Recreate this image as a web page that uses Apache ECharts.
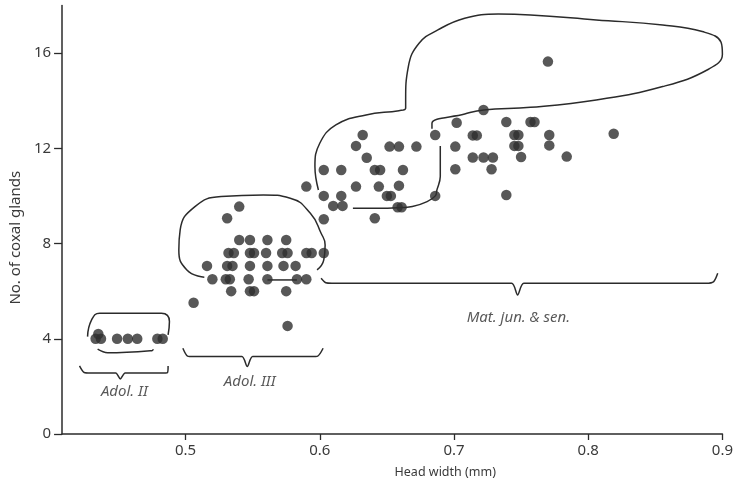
<!DOCTYPE html>
<html>
<head>
<meta charset="utf-8">
<script src="https://cdn.jsdelivr.net/npm/echarts@6/dist/echarts.min.js"></script>
<style>
html,body{margin:0;padding:0;background:#ffffff;}
#c{width:736px;height:485px;}
</style>
</head>
<body>
<div id="c"></div>
<script>
// ---- tick labels ----
var xTicks = [0.5, 0.6, 0.7, 0.8, 0.9];
var yTicks = [0, 4, 8, 12, 16];

// ---- points: [head width (mm), no. of coxal glands] ----
var adolII = [[0.433,4.0],[0.437,4.0],[0.435,4.2],[0.449,4.0],[0.457,4.0],[0.464,4.0],[0.479,4.0],[0.483,4.0]];

var adolIII = [
  [0.540,8.15],[0.548,8.15],[0.561,8.15],[0.575,8.15],
  [0.532,7.6],[0.536,7.6],[0.548,7.6],[0.551,7.6],[0.560,7.6],[0.572,7.6],[0.576,7.6],[0.590,7.6],[0.594,7.6],[0.603,7.6],
  [0.516,7.06],[0.531,7.06],[0.535,7.06],[0.548,7.06],[0.561,7.06],[0.573,7.06],[0.582,7.06],
  [0.520,6.5],[0.530,6.5],[0.533,6.5],[0.547,6.5],[0.561,6.5],[0.583,6.5],[0.590,6.5],
  [0.534,6.0],[0.548,6.0],[0.551,6.0],[0.575,6.0],
  [0.540,9.55],[0.531,9.06],[0.506,5.51],[0.576,4.54]
];

var mature = [
  [0.770,15.64],[0.722,13.61],[0.702,13.07],[0.739,13.1],[0.757,13.1],[0.760,13.1],
  [0.686,12.56],[0.714,12.54],[0.717,12.54],[0.745,12.56],[0.748,12.56],[0.771,12.56],[0.819,12.61],
  [0.701,12.07],[0.745,12.1],[0.748,12.1],[0.771,12.12],
  [0.714,11.61],[0.722,11.61],[0.729,11.61],[0.750,11.63],[0.784,11.65],
  [0.701,11.12],[0.728,11.12],[0.739,10.04],
  [0.632,12.56],[0.627,12.1],[0.652,12.07],[0.659,12.07],[0.672,12.07],[0.635,11.6],
  [0.603,11.09],[0.616,11.09],[0.641,11.09],[0.645,11.09],[0.662,11.09],
  [0.590,10.39],[0.627,10.39],[0.644,10.39],[0.659,10.43],
  [0.603,10.0],[0.616,10.0],[0.650,10.0],[0.653,10.0],[0.686,10.0],
  [0.610,9.58],[0.617,9.58],[0.658,9.52],[0.661,9.52],
  [0.603,9.02],[0.641,9.06]
];

// ---- hand-drawn outlines (data coordinates) ----
var outlineIItop = [[0.427,4.09],[0.430,4.79],[0.436,5.07],[0.482,5.07],[0.488,4.72],[0.487,4.16]];
var outlineIIbottom = [[0.4345,3.56],[0.442,3.41],[0.475,3.50],[0.476,3.56]];
var outlineIII = [[0.514,6.58],[0.501,6.89],[0.495,7.73],[0.496,8.57],[0.507,9.55],[0.5265,9.97],[0.558,10.04],[0.578,9.90],[0.593,9.27],[0.601,8.43],[0.604,7.94],[0.603,7.31],[0.598,6.89]];
var outlineIIIdash = [[0.561,6.47],[0.583,6.47]];
var outlineMat = [[0.599,10.25],[0.5964,11.23],[0.600,12.21],[0.612,12.98],[0.6345,13.40],[0.659,13.58],[0.664,13.68],[0.664,14.03],[0.666,15.43],[0.674,16.41],[0.688,16.97],[0.708,17.46],[0.733,17.64],[0.757,17.60],[0.806,17.39],[0.8555,17.18],[0.885,16.90],[0.899,16.45],[0.900,15.95],[0.890,15.33],[0.8555,14.59],[0.806,14.03],[0.757,13.72],[0.722,13.61],[0.708,13.44],[0.6836,13.05],[0.6836,12.82]];
var outlineMatInner = [[0.6898,12.1],[0.6898,11.65],[0.6898,10.81],[0.6873,10.25],[0.6861,10.0],[0.680,9.76],[0.669,9.55],[0.661,9.51],[0.6505,9.48],[0.6247,9.48]];

// ---- braces ----
var braceII = [[0.421,2.86],[0.4245,2.58],[0.429,2.56],[0.448,2.56],[0.4514,2.31],[0.455,2.56],[0.482,2.56],[0.4865,2.58],[0.487,2.86]];
var braceIII = [[0.498,3.60],[0.5015,3.27],[0.506,3.25],[0.542,3.25],[0.546,2.83],[0.550,3.25],[0.594,3.25],[0.5985,3.27],[0.6025,3.60]];
var braceMat = [[0.601,6.54],[0.6045,6.35],[0.609,6.33],[0.743,6.33],[0.7474,5.84],[0.752,6.33],[0.888,6.33],[0.8935,6.40],[0.8965,6.75]];

// ---- group labels ----
var groupLabels = [
  {name:'Adol. II', value:[0.4544,1.76]},
  {name:'Adol. III', value:[0.5478,2.18]},
  {name:'Mat. jun. & sen.', value:[0.748,4.87]}
];

var FONT = '"Noto Sans", "Open Sans", sans-serif';
var INK = '#2b2b2b';
var TXT = '#3a3a3a';

function curve(data, smooth){
  return {type:'line', data:data, smooth:smooth, symbol:'none', clip:false, silent:true,
    lineStyle:{color:INK, width:1.5}, z:2};
}
function dots(data){
  return {type:'scatter', data:data, symbol:'circle', symbolSize:10.5, clip:false, silent:true,
    itemStyle:{color:'#2e2e2e'}, z:5};
}

var chart = echarts.init(document.getElementById('c'), null, {renderer:'canvas'});
chart.setOption({
  animation:false,
  backgroundColor:'#ffffff',
  grid:{left:59, right:9, top:5.4, bottom:51, containLabel:false},
  xAxis:{
    type:'value', min:0.408, max:0.9,
    name:'Head width (mm)', nameLocation:'middle', nameGap:32,
    nameTextStyle:{fontFamily:FONT, fontSize:12.5, color:TXT, padding:[0,0,0,106]},
    axisLine:{show:true, lineStyle:{color:INK, width:1.5}},
    axisTick:{show:true, length:6, inside:false, customValues:xTicks, lineStyle:{color:INK, width:1.3}},
    axisLabel:{customValues:xTicks, fontFamily:FONT, fontSize:15, color:TXT, margin:9,
      formatter:function(v){return v.toFixed(1);}},
    splitLine:{show:false}
  },
  yAxis:{
    type:'value', min:0, max:18,
    name:'No. of coxal glands', nameLocation:'middle', nameGap:36, nameRotate:90,
    nameTextStyle:{fontFamily:FONT, fontSize:15, color:TXT, padding:[0,36,0,0]},
    axisLine:{show:true, lineStyle:{color:INK, width:1.5}},
    axisTick:{show:true, length:8, inside:false, customValues:yTicks, lineStyle:{color:INK, width:1.3}},
    axisLabel:{customValues:yTicks, fontFamily:FONT, fontSize:15, color:TXT, margin:11},
    splitLine:{show:false}
  },
  series:[
    curve(outlineIItop, 0.5),
    curve(outlineIIbottom, 0.4),
    curve(outlineIII, 0.5),
    curve(outlineIIIdash, false),
    curve(outlineMat, 0.45),
    curve(outlineMatInner, 0.4),
    curve(braceII, 0.25),
    curve(braceIII, 0.25),
    curve(braceMat, 0.25),
    dots(adolII),
    dots(adolIII),
    dots(mature),
    {type:'scatter', data:groupLabels, symbolSize:0, silent:true, clip:false,
      label:{show:true, position:'inside', formatter:'{b}', fontFamily:FONT, fontStyle:'italic',
        fontSize:15, color:'#2e2e2e'}, z:6}
  ]
});
</script>
</body>
</html>
